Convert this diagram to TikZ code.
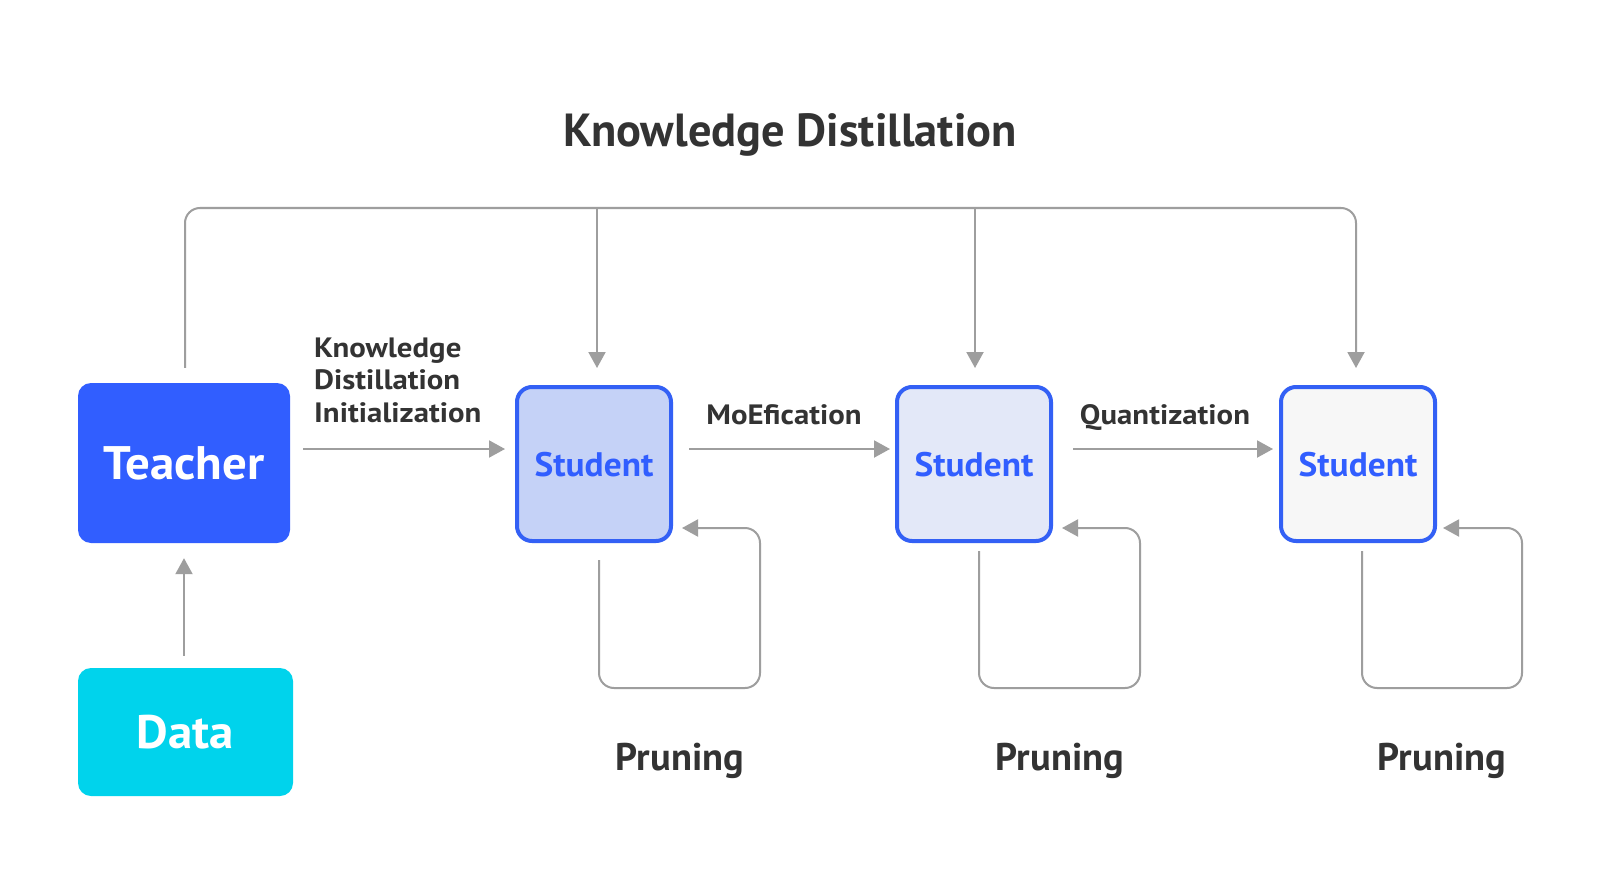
\documentclass[tikz,border=0pt]{standalone}
\usepackage{fontspec}
\setmainfont{PT Sans}
\newfontfamily\labfont[FakeStretch=1.1]{PT Sans}
\newfontfamily\boxfont[FakeStretch=1.04]{PT Sans}
\usetikzlibrary{arrows.meta,calc}
\definecolor{tblue}{HTML}{315EFF}
\definecolor{dcyan}{HTML}{00D3EC}
\definecolor{sfillA}{HTML}{C5D2F7}
\definecolor{sfillB}{HTML}{E3E8F8}
\definecolor{sfillC}{HTML}{F7F7F7}
\definecolor{sborder}{HTML}{3360F5}
\definecolor{linegray}{HTML}{9E9E9E}
\definecolor{txt}{HTML}{333333}
\tikzset{
  bigbox/.style={inner sep=0pt, rounded corners=13pt, text=white,
    font=\boxfont\bfseries\fontsize{47}{50}\selectfont, text height=33pt, text depth=0pt},
  studentbox/.style={draw=sborder, line width=4pt, rounded corners=15pt,
    minimum width=154pt, minimum height=154pt, inner sep=0pt, text=tblue,
    font=\boxfont\bfseries\fontsize{34}{36}\selectfont, text height=24pt, text depth=0pt},
  lab/.style={text=txt, inner sep=0pt, font=\labfont\bfseries\fontsize{28}{32.5}\selectfont},
  prune/.style={text=txt, inner sep=0pt, font=\bfseries\fontsize{38.5}{40}\selectfont},
  conn/.style={draw=linegray, line width=2pt},
  arr/.style={conn, -{Triangle[length=16pt,width=17pt]}},
}
\begin{document}
\begin{tikzpicture}[x=1pt,y=-1pt]
\useasboundingbox[fill=white] (0,0) rectangle (1600,896);

% title
\node[text=txt, inner sep=0pt, anchor=base, font=\bfseries\fontsize{46.4}{48}\selectfont] (title) at (790,147) {Knowledge Distillation};

% boxes
\node[bigbox, fill=tblue, minimum width=212pt, minimum height=160pt] (teacher) at (184,463) {Teacher};
\node[bigbox, fill=dcyan, minimum width=215pt, minimum height=128pt] (data) at (185.5,732) {Data};
\node[studentbox, fill=sfillA] (s1) at (594,464) {Student};
\node[studentbox, fill=sfillB] (s2) at (974,464) {Student};
\node[studentbox, fill=sfillC] (s3) at (1358,464) {Student};

% labels
\node[lab, align=left, anchor=base west] (kdi) at (314,422) {Knowledge\\Distillation\\Initialization};
\node[lab, anchor=base] (moe) at (784,424) {MoEfication};
\node[lab, anchor=base] (quant) at (1165,424) {Quantization};
\node[prune, anchor=base] (p1) at (680,770) {Pruning};
\node[prune, anchor=base] (p2) at (1060,770) {Pruning};
\node[prune, anchor=base] (p3) at (1442,770) {Pruning};

% top distillation path
\coordinate (topy) at (0,208);
\draw[arr, rounded corners=15pt] ($(teacher.north)+(1,-15)$) |- ($(s3.north |- topy)+(-2,0)$) -- ($(s3.north)+(-2,-17)$);
\draw[arr] ($(s1.north |- topy)+(3,0)$) -- ($(s1.north)+(3,-17)$);
\draw[arr] ($(s2.north |- topy)+(1,0)$) -- ($(s2.north)+(1,-17)$);

% horizontal flow
\draw[arr] ($(teacher.east)+(13,-14)$) -- ($(s1.west)+(-10,-15)$);
\draw[arr] ($(s1.east)+(16,-15)$) -- ($(s2.west)+(-5,-15)$);
\draw[arr] ($(s2.east)+(20,-15)$) -- ($(s3.west)+(-6,-15)$);

% data to teacher
\draw[arr] ($(data.north)+(-1.5,-12)$) -- ($(teacher.south)+(0,15)$);

% pruning loops
\draw[arr, rounded corners=15pt] ($(s1.south)+(5,17)$) |- ($(s1.east)+(87,224)$) |- ($(s1.east)+(9,64)$);
\draw[arr, rounded corners=15pt] ($(s2.south)+(5,8)$) |- ($(s2.east)+(87,224)$) |- ($(s2.east)+(9,64)$);
\draw[arr, rounded corners=15pt] ($(s3.south)+(4,8)$) |- ($(s3.east)+(85,224)$) |- ($(s3.east)+(6,64)$);
\end{tikzpicture}
\end{document}
